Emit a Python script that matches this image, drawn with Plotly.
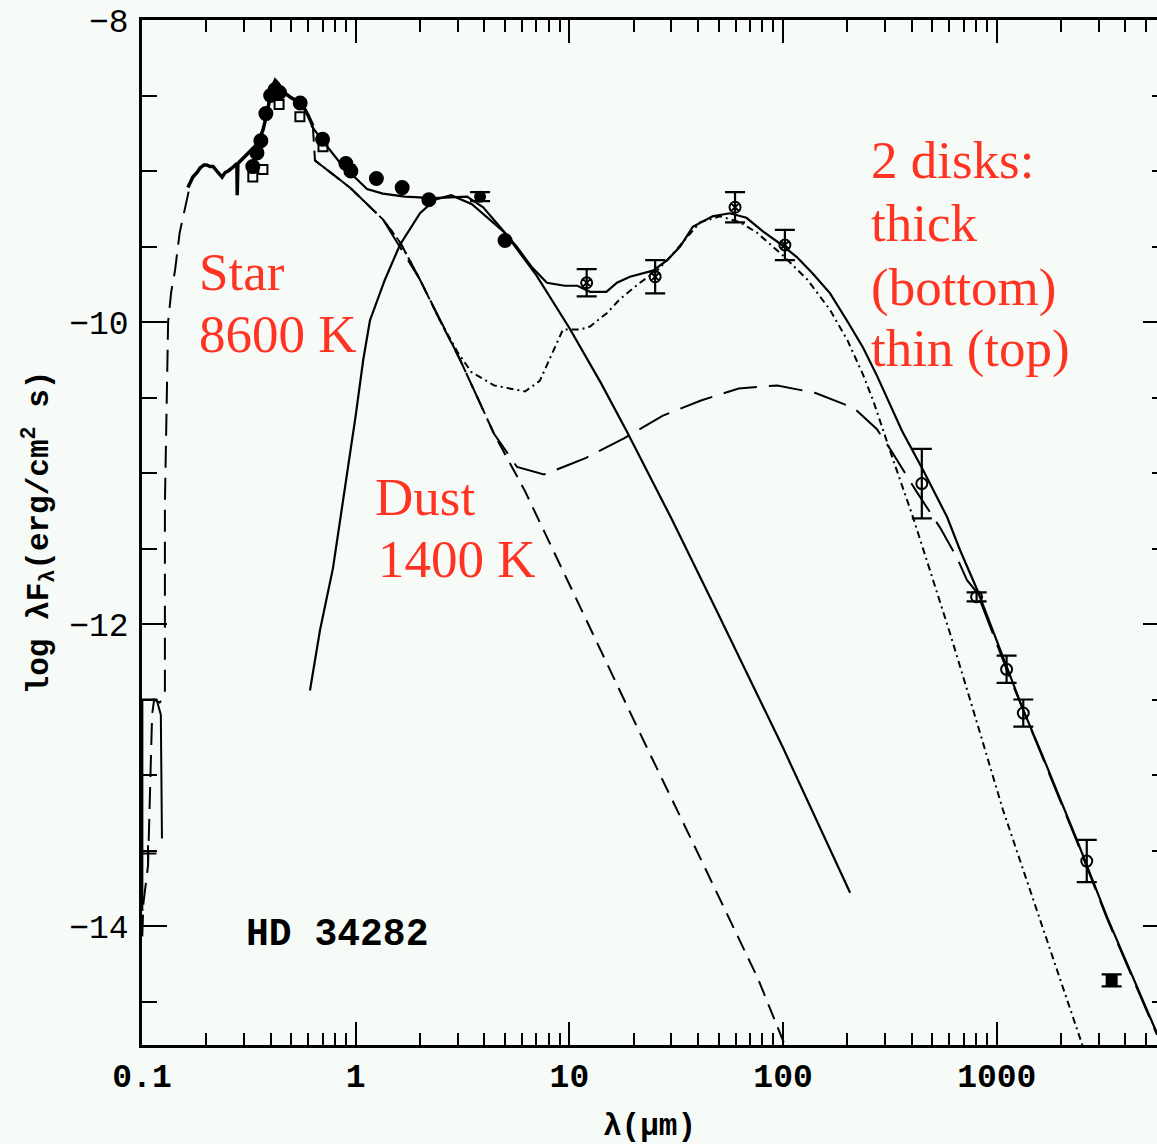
import plotly.graph_objects as go

# ---------------- photometry: wavelength (micron) and log(lambda F_lambda) ----------------
opt_wl = [0.33, 0.345, 0.36, 0.38, 0.40, 0.42, 0.44, 0.55, 0.70, 0.90, 0.95, 1.25, 1.65, 2.2, 5.0]
opt_flux = [-8.97, -8.88, -8.80, -8.62, -8.50, -8.46, -8.48, -8.55, -8.79, -8.95, -9.00, -9.05, -9.11, -9.19, -9.46]

opt2_wl = [0.33, 0.368, 0.438, 0.548, 0.703, 0.94]
opt2_flux = [-9.04, -8.99, -8.56, -8.64, -8.84, -8.99]

uv_pt_wl = [0.1067]
uv_pt_flux = [-13.52]

lband_wl = [3.82]
lband_flux = [-9.17]
lband_err = [0.03]

iras_wl = [12.05, 25.2, 59.6, 102.0]
iras_flux = [-9.74, -9.70, -9.24, -9.49]
iras_err = [0.09, 0.11, 0.10, 0.10]

mm_wl = [446.0, 805.0, 1112.0, 1331.0, 2638.0]
mm_flux = [-11.07, -11.82, -12.30, -12.59, -13.57]
mm_err = [0.23, 0.03, 0.09, 0.09, 0.14]

cm_wl = [3450.0]
cm_flux = [-14.36]
cm_err = [0.04]

# ---------------- model curves ----------------
# stellar photosphere (8600 K), far-UV part
star_uv_wl = [0.1003, 0.1015, 0.1067, 0.109, 0.1115, 0.114, 0.121, 0.1245, 0.128, 0.128,
              0.131, 0.1325, 0.137, 0.1427, 0.150, 0.159, 0.168]
star_uv_flux = [-14.07, -13.85, -13.6, -13.1, -12.6, -12.5, -12.52, -12.5, -12.45, -11.2,
                -10.52, -10.0, -9.8, -9.66, -9.41, -9.24, -9.09]

# UV edge of the model near Lyman alpha
uv_edge_wl = [0.1004, 0.1004, 0.117, 0.1225, 0.124]
uv_edge_flux = [-13.9, -12.5, -12.5, -12.6, -13.42]

# photospheric spectrum, UV-optical
spec_wl = [0.164, 0.173, 0.181, 0.187, 0.195, 0.201, 0.208, 0.215, 0.224, 0.232, 0.237, 0.245,
           0.253, 0.264, 0.272, 0.278, 0.279, 0.281, 0.290, 0.300, 0.313, 0.327, 0.342, 0.356,
           0.368, 0.38, 0.388, 0.397, 0.406, 0.42, 0.433, 0.452, 0.472, 0.493, 0.52, 0.548,
           0.573, 0.598, 0.63]
spec_flux = [-9.11, -9.04, -9.01, -8.98, -8.96, -8.96, -8.97, -8.97, -9.00, -9.03, -9.04, -9.01,
             -9.00, -8.98, -8.96, -8.95, -9.16, -8.95, -8.93, -8.91, -8.89, -8.86, -8.83, -8.78,
             -8.73, -8.65, -8.58, -8.52, -8.45, -8.40, -8.42, -8.46, -8.49, -8.51, -8.53, -8.53,
             -8.58, -8.63, -8.70]

# stellar photosphere, red and infrared part
star_ir_wl = [0.63, 0.645, 0.94, 1.34, 1.61, 2.0, 2.5, 3.08, 4.44, 6.2, 11.97, 22.2, 41.3, 76.4, 102.0]
star_ir_flux = [-8.70, -8.93, -9.11, -9.32, -9.47, -9.72, -10.0, -10.25, -10.74, -11.12, -11.97,
                -12.77, -13.56, -14.35, -14.79]

# hot dust, 1400 K
dust_wl = [0.611, 0.681, 0.783, 0.891, 1.0, 1.085, 1.166, 1.37, 1.61, 2.0, 2.35, 2.8, 3.5, 5.0,
           7.0, 10.0, 14.0, 18.5, 30.0, 50.0, 100.0, 206.0]
dust_flux = [-12.44, -12.04, -11.63, -11.11, -10.62, -10.25, -9.99, -9.72, -9.49, -9.28, -9.19,
             -9.16, -9.22, -9.41, -9.69, -10.04, -10.40, -10.72, -11.30, -11.94, -12.82, -13.78]

# star + optically thick disk
thick_wl = [0.645, 0.94, 1.34, 2.0, 3.08, 4.44, 5.69, 6.7, 7.6, 9.75, 11.97, 18.0, 27.4, 41.3,
            62.0, 94.0, 142.0, 215.0, 275.0, 320.0, 420.0, 542.0, 651.0, 726.0, 808.0, 1112.0,
            1592.0, 2371.0, 3280.0, 5620.0]
thick_flux = [-8.93, -9.11, -9.32, -9.72, -10.25, -10.74, -10.96, -10.99, -11.01, -10.95, -10.90,
              -10.77, -10.62, -10.52, -10.44, -10.42, -10.47, -10.57, -10.71, -10.85, -11.12,
              -11.36, -11.56, -11.71, -11.79, -12.30, -12.84, -13.44, -13.95, -14.72]

# star + optically thin disk
thin_wl = [0.645, 0.94, 1.34, 1.61, 2.0, 2.5, 3.0, 3.47, 4.44, 6.2, 7.27, 8.57, 9.33, 11.2, 12.5,
           15.0, 17.2, 21.4, 25.7, 29.6, 35.5, 40.8, 50.7, 63.1, 75.7, 89.8, 100.0, 130.0, 166.0,
           200.0, 237.0, 264.0, 294.0, 327.0, 405.0, 487.0, 604.0, 750.0, 861.0, 1069.0, 1430.0,
           1913.0, 2506.0, 2560.0]
thin_flux = [-8.93, -9.11, -9.32, -9.47, -9.72, -10.0, -10.2, -10.33, -10.42, -10.46, -10.39,
             -10.17, -10.05, -10.05, -10.03, -9.94, -9.85, -9.74, -9.66, -9.57, -9.44, -9.34,
             -9.30, -9.34, -9.41, -9.50, -9.56, -9.72, -9.92, -10.12, -10.35, -10.52, -10.72,
             -10.91, -11.29, -11.64, -12.06, -12.50, -12.79, -13.23, -13.76, -14.29, -14.77, -14.82]

# total model: star + dust + both disks
total_wl = [0.62, 0.70, 0.85, 1.0, 1.13, 1.34, 1.7, 2.3, 3.32, 3.95, 4.73, 5.66, 6.7, 7.85, 9.5,
            10.9, 12.5, 14.9, 16.7, 19.2, 24.6, 28.7, 33.0, 37.8, 46.8, 56.2, 67.4, 80.5, 96.6,
            116.0, 138.0, 166.0, 199.0, 237.0, 276.0, 306.0, 360.0, 452.0, 585.0, 673.0, 808.0,
            1112.0, 1331.0, 1592.0, 2371.0, 3280.0, 5620.0]
total_flux = [-8.70, -8.80, -8.95, -9.05, -9.12, -9.15, -9.17, -9.18, -9.17, -9.24, -9.37, -9.50,
              -9.64, -9.74, -9.76, -9.76, -9.80, -9.80, -9.74, -9.70, -9.66, -9.59, -9.50, -9.37,
              -9.30, -9.28, -9.31, -9.40, -9.48, -9.57, -9.68, -9.81, -9.99, -10.17, -10.36,
              -10.50, -10.72, -10.98, -11.29, -11.51, -11.77, -12.28, -12.57, -12.83, -13.43,
              -13.94, -14.71]

# ---------------- axis ticks ----------------
x_major = [0.1, 1, 10, 100, 1000]
x_major_text = ["0.1", "1", "10", "100", "1000"]
x_minor = [m * d for d in [0.1, 1, 10, 100, 1000] for m in range(2, 10) if m * d < 5600]
y_major = [-8, -10, -12, -14]
y_major_text = ["\u22128", "\u221210", "\u221212", "\u221214"]
y_minor = [-8.5, -9, -9.5, -10.5, -11, -11.5, -12.5, -13, -13.5, -14.5]

BG = "#f7fbf8"
INK = "black"
RED = "#ff3322"

fig = go.Figure()


def curve(xs, ys, dash="solid", width=2.0):
    fig.add_trace(go.Scatter(x=xs, y=ys, mode="lines",
                             line=dict(color=INK, width=width, dash=dash),
                             showlegend=False, hoverinfo="skip"))


curve(star_uv_wl, star_uv_flux, dash="22px,10px")
curve(uv_edge_wl, uv_edge_flux)
curve(spec_wl, spec_flux, width=3.5)
curve(star_ir_wl, star_ir_flux, dash="16px,9px")
curve(dust_wl, dust_flux, width=2.2)
curve(thick_wl, thick_flux, dash="34px,12px")
curve(thin_wl, thin_flux, dash="7px,4px,2px,4px")
curve(total_wl, total_flux, width=2.2)


def points(xs, ys, symbol, size, err=None):
    fig.add_trace(go.Scatter(
        x=xs, y=ys, mode="markers",
        marker=dict(symbol=symbol, size=size, color=INK,
                    line=dict(color=INK, width=2)),
        error_y=None if err is None else dict(type="data", array=err, visible=True,
                                               color=INK, thickness=2.2, width=10),
        showlegend=False, hoverinfo="skip"))


points(opt_wl, opt_flux, "circle", 13)
points(opt2_wl, opt2_flux, "square-open", 9)
points(uv_pt_wl, uv_pt_flux, "cross-thin-open", 12)
points(lband_wl, lband_flux, "circle", 10, err=lband_err)
points(iras_wl, iras_flux, "circle-x-open", 11, err=iras_err)
points(mm_wl, mm_flux, "circle-open", 11, err=mm_err)
points(cm_wl, cm_flux, "square", 10, err=cm_err)

# right-hand axis carries only the mirrored inner ticks
fig.add_trace(go.Scatter(x=[None], y=[None], yaxis="y2", showlegend=False, hoverinfo="skip"))

tick_font = dict(family="Liberation Mono", size=33, color=INK)
y_range = [-14.788, -8.0]

fig.update_layout(
    width=1157, height=1144,
    margin=dict(l=142, r=0, t=20, b=99),
    paper_bgcolor=BG, plot_bgcolor=BG,
    showlegend=False,
    xaxis=dict(
        type="log", range=[-1.0, 3.75],
        showline=True, linecolor=INK, linewidth=2.5, mirror="ticks",
        ticks="inside", ticklen=23, tickwidth=2.2, tickcolor=INK,
        tickvals=x_major, ticktext=x_major_text,
        minor=dict(tickvals=x_minor, ticks="inside", ticklen=12, tickwidth=2.2, tickcolor=INK,
                   showgrid=False),
        tickfont=dict(tick_font, weight="bold"),
        showgrid=False, zeroline=False,
        title=dict(text="\u03bb(\u03bcm)", standoff=20,
                   font=dict(family="Liberation Mono", size=31, color=INK, weight="bold")),
    ),
    yaxis=dict(
        range=y_range,
        showline=True, linecolor=INK, linewidth=2.5, mirror=False,
        ticks="inside", ticklen=25, tickwidth=2.2, tickcolor=INK,
        tickvals=y_major, ticktext=y_major_text,
        minor=dict(tickvals=y_minor, ticks="inside", ticklen=15, tickwidth=2.2, tickcolor=INK,
                   showgrid=False),
        tickfont=tick_font, ticklabelstandoff=4,
        showgrid=False, zeroline=False,
        title=dict(text="log \u03bbF<sub>\u03bb</sub>(erg/cm<sup>2</sup> s)", standoff=12,
                   font=dict(family="Liberation Mono", size=31, color=INK, weight="bold")),
    ),
    yaxis2=dict(
        overlaying="y", side="right", anchor="free", position=1.0,
        range=y_range, showline=False, showgrid=False, zeroline=False,
        ticks="inside", ticklen=14, tickwidth=2.2, tickcolor=INK,
        tickvals=y_major, showticklabels=False,
        minor=dict(tickvals=y_minor, ticks="inside", ticklen=5, tickwidth=2.2, tickcolor=INK),
    ),
)


def px_to_paper(px, py):
    return (px - 142) / (1157 - 142), (1045 - py) / (1045 - 20)


def label(text, px, py, color=RED, size=53, family="Liberation Serif", weight="normal"):
    xp, yp = px_to_paper(px, py)
    fig.add_annotation(text=text, x=xp, y=yp, xref="paper", yref="paper",
                       xanchor="left", yanchor="middle", showarrow=False,
                       font=dict(family=family, size=size, color=color, weight=weight))


label("Star", 197, 272)
label("8600 K", 197, 334)
label("Dust", 373, 497)
label("1400 K", 376, 559)
label("2 disks:", 869, 160)
label("thick", 869, 223)
label("(bottom)", 869, 287)
label("thin (top)", 869, 349)
label("HD 34282", 244, 934, color=INK, size=38, family="Liberation Mono", weight="bold")

fig.write_html("out.html")
